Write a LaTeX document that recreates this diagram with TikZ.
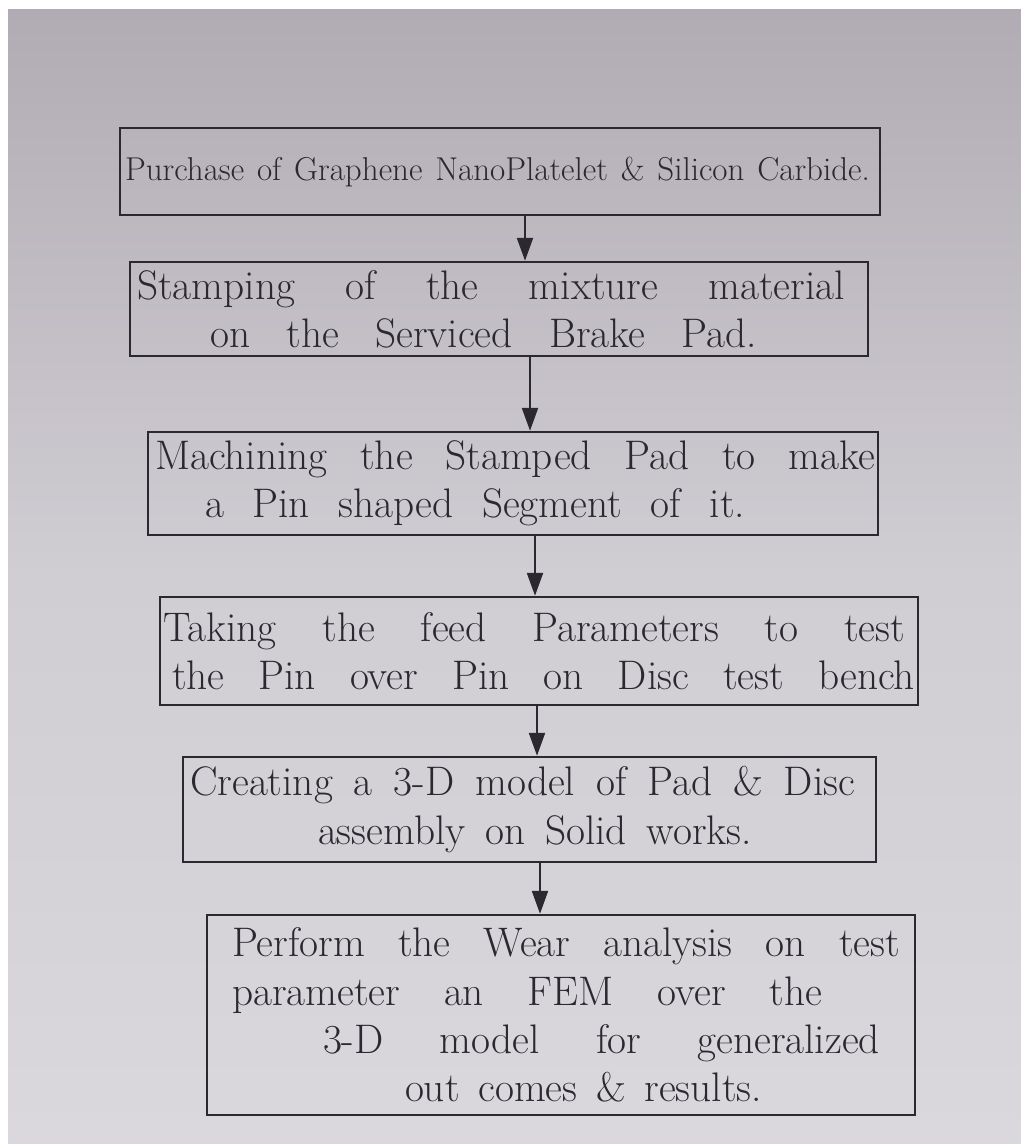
\documentclass[tikz,border=0pt]{standalone}
\usepackage{tikz}
\usetikzlibrary{arrows.meta}
\definecolor{pen}{HTML}{2B2830}
\definecolor{paperTop}{HTML}{B1ACB3}
\definecolor{paperMid}{HTML}{D0CDD3}
\definecolor{paperBot}{HTML}{DAD8DC}
\newcommand{\spread}[2]{\makebox[#1][s]{\spaceskip=.3333em plus 1fil\relax #2}}
\begin{document}
\begin{tikzpicture}[x=0.02cm,y=-0.02cm,stepbox/.style={shape=rectangle,draw=pen,line width=1.4pt,inner xsep=0pt,inner ysep=0pt,align=left,text=pen,font=\fontsize{23.5}{27.5}\selectfont},flow/.style={draw=pen,line width=1.4pt,-{Triangle[length=13pt,width=9pt]}}]
\useasboundingbox (0,0) rectangle (1021,1144);
\shade[top color=paperTop,bottom color=paperBot,middle color=paperMid] (8,9) rectangle (1021,1144);

% the six steps
\node[stepbox,minimum width=15.2cm,text width=15.2cm,minimum height=1.74cm,font=\fontsize{18.8}{22}\selectfont] (b1) at (500,171.5) {\hspace*{0.1cm}\spread{14.9cm}{Purchase of Graphene NanoPlatelet \& Silicon Carbide.}};
\node[stepbox,minimum width=14.76cm,text width=14.76cm,minimum height=1.88cm] (b2) at (499,309) {\hspace*{0.14cm}\spread{14.16cm}{Stamping of the mixture material}\\\hspace*{1.6cm}\spread{10.94cm}{on the Serviced Brake Pad.}};
\node[stepbox,minimum width=14.6cm,text width=14.6cm,minimum height=2.06cm] (b3) at (513,483.5) {\hspace*{0.14cm}\spread{14.4cm}{Machining the Stamped Pad to make}\\\hspace*{1.14cm}\spread{10.8cm}{a Pin shaped Segment of it.}};
\node[stepbox,minimum width=15.16cm,text width=15.16cm,minimum height=2.16cm] (b4) at (539,651) {\hspace*{0.06cm}\spread{14.84cm}{Taking the feed Parameters to test}\\\hspace*{0.24cm}\spread{14.86cm}{the Pin over Pin on Disc test bench}};
\node[stepbox,minimum width=13.86cm,text width=13.86cm,minimum height=2.1cm] (b5) at (529.5,809.5) {\hspace*{0.14cm}\spread{13.3cm}{Creating a 3-D model of Pad \& Disc}\\\hspace*{2.7cm}\spread{8.68cm}{assembly on Solid works.}};
\node[stepbox,minimum width=14.16cm,text width=14.16cm,minimum height=4cm] (b6) at (561,1015) {\hspace*{0.5cm}\spread{13.36cm}{Perform the Wear analysis on test}\\\hspace*{0.5cm}\spread{11.8cm}{parameter an FEM over the}\\\hspace*{2.32cm}\spread{11.14cm}{3-D model for generalized}\\\hspace*{3.96cm}\spread{7.14cm}{out comes \& results.}};

% connectors
\draw[flow] (525,0 |- b1.south) -- (525,0 |- b2.north);
\draw[flow] (530,0 |- b2.south) -- (530,0 |- b3.north);
\draw[flow] (535,0 |- b3.south) -- (535,0 |- b4.north);
\draw[flow] (537,0 |- b4.south) -- (537,0 |- b5.north);
\draw[flow] (540,0 |- b5.south) -- (540,0 |- b6.north);
\end{tikzpicture}
\end{document}
